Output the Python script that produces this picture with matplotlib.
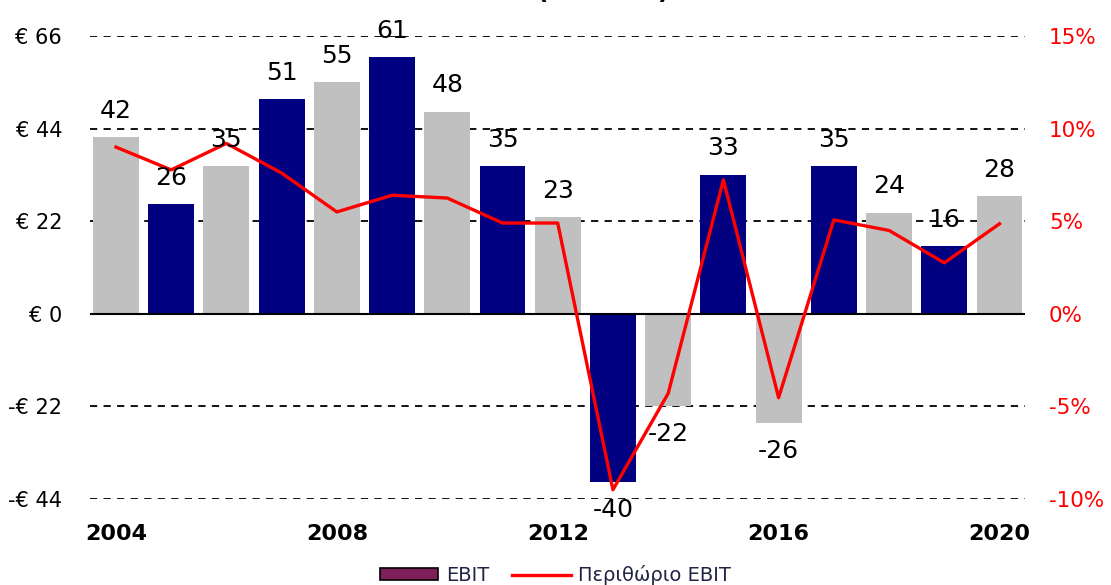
import matplotlib
matplotlib.use("Agg")
import matplotlib.pyplot as plt
from matplotlib.ticker import FuncFormatter
from matplotlib.patches import Patch
from matplotlib.lines import Line2D

# data
years = [2004, 2005, 2006, 2007, 2008, 2009, 2010, 2011, 2012,
         2013, 2014, 2015, 2016, 2017, 2018, 2019, 2020]
ebit = [42, 26, 35, 51, 55, 61, 48, 35, 23, -40, -22, 33, -26, 35, 24, 16, 28]
margin = [9.0, 7.77, 9.2, 7.6, 5.5, 6.4, 6.25, 4.9, 4.9, -9.5, -4.3,
          7.23, -4.53, 5.07, 4.5, 2.75, 4.86]
left_ticks = [-44, -22, 0, 22, 44, 66]
right_ticks = [-10, -5, 0, 5, 10, 15]
xtick_years = [2004, 2008, 2012, 2016, 2020]

plt.rcParams['font.family'] = ['DejaVu Sans']

fig = plt.figure(figsize=(11.11, 5.85), dpi=100)
ax = fig.add_axes([0.081, 0.147, 0.842, 0.7915])

colors = ['#C0C0C0' if i % 2 == 0 else '#000080' for i in range(len(years))]
ax.bar(years, ebit, width=0.83, color=colors, zorder=2)

ax.set_xlim(2003.53, 2020.47)
ax.set_ylim(-44, 66)
ax.set_yticks(left_ticks)
ax.yaxis.set_major_formatter(FuncFormatter(
    lambda v, p: ('-€ %d' % abs(v)) if v < 0 else ('€ %d' % v)))
ax.set_xticks(xtick_years)
ax.tick_params(axis='y', length=0, pad=20, labelsize=15)
ax.tick_params(axis='x', length=0, pad=18, labelsize=16)
for t in ax.get_xticklabels():
    t.set_fontweight('bold')
ax.grid(axis='y', color='black', linestyle=(0, (4, 3.5)), linewidth=1.3, zorder=1)
ax.axhline(0, color='black', linewidth=1.5, zorder=3)
for s in ax.spines.values():
    s.set_visible(False)

# margin line on a second axis, drawn over the bars
ax2 = ax.twinx()
ax2.plot(years, margin, color='#FF0000', linewidth=2.4, zorder=5)
ax2.set_ylim(-10, 15)
ax2.set_yticks(right_ticks)
ax2.yaxis.set_major_formatter(FuncFormatter(lambda v, p: '%d%%' % v))
ax2.tick_params(axis='y', length=0, pad=17, labelsize=15.5, colors='#FF0000')
for s in ax2.spines.values():
    s.set_visible(False)

# value labels on top of everything
for x, v in zip(years, ebit):
    off = 19 if v >= 0 else -20
    ax2.annotate(str(v), (x, v), xycoords=ax.transData, xytext=(0, off),
                 textcoords='offset points', ha='center', va='center',
                 fontsize=18, color='black', zorder=6)

# title, mostly cut off at the top edge
fig.text(0.543, 1.0 + 1.5 / 585, '(σε εκ. €)', ha='center', va='baseline',
         fontsize=18, fontweight='bold')

handles = [Patch(facecolor='#7F1F5A', edgecolor='black', linewidth=1.2),
           Line2D([0], [0], color='#FF0000', linewidth=2.4)]
fig.legend(handles, ['EBIT', 'Περιθώριο EBIT'], loc='center',
           bbox_to_anchor=(0.5, 0.017), ncol=2, frameon=False, fontsize=14,
           handlelength=3.0, handleheight=0.6, columnspacing=1.2,
           handletextpad=0.4, labelcolor='#222244')

fig.savefig('out.png', dpi=100)
